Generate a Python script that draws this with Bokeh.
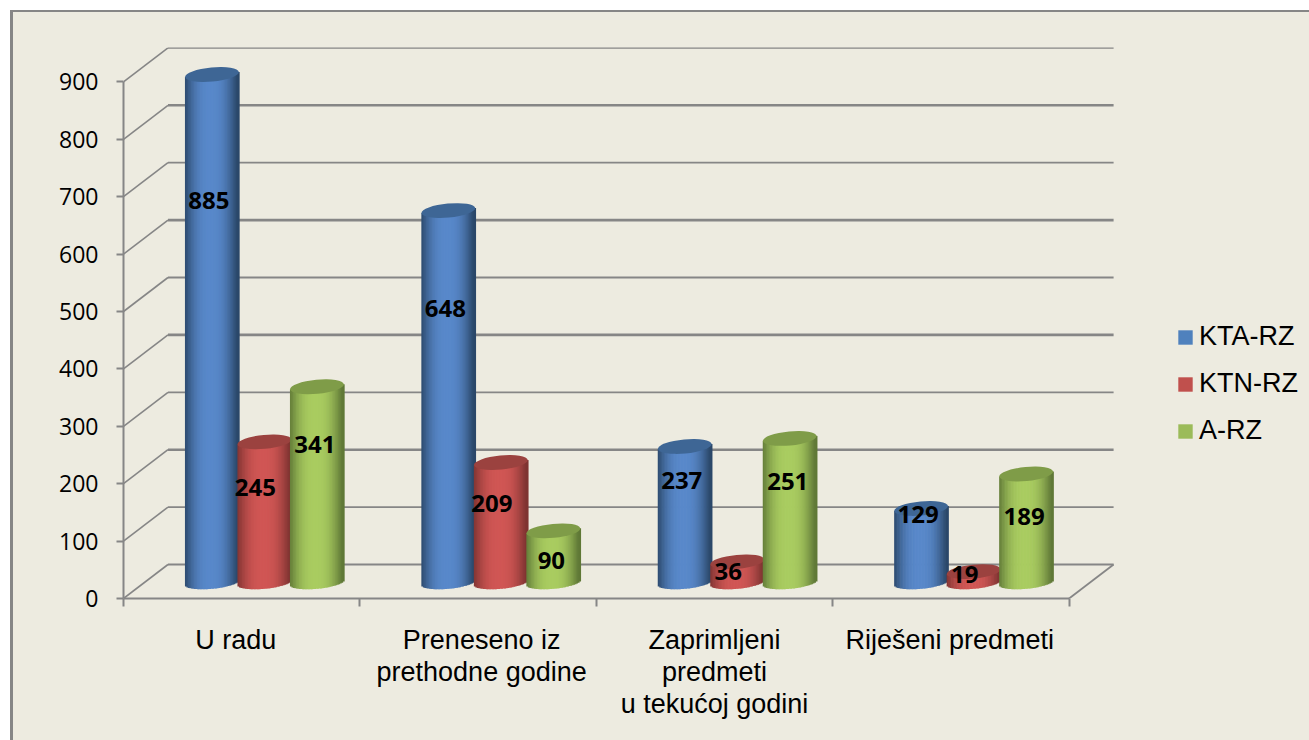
import math
from bokeh.embed import file_html
from bokeh.resources import INLINE
from bokeh.plotting import figure
from bokeh.core.properties import value
from bokeh.models import (FixedTicker, Legend, LegendItem, Range1d)

categories = ["U radu", "Preneseno iz\nprethodne godine", "Zaprimljeni\npredmeti\nu tekućoj godini", "Riješeni predmeti"]
series_names = ["KTA-RZ", "KTN-RZ", "A-RZ"]
kta_rz = [885, 648, 237, 129]
ktn_rz = [245, 209, 36, 19]
a_rz = [341, 90, 251, 189]
y_ticks = [0, 100, 200, 300, 400, 500, 600, 700, 800, 900]

# layout / style
W, H = 1296, 728
BG, GRID = "#edebe0", "#868686"
PX_X, PX_Y = 236.4, 0.574          # px per category, px per value
DX, DY = 44.5 / PX_X, 34 / PX_Y    # depth of the pseudo-3D floor
BASE_X, BASE_Y = DX / 2 + 0.5 / PX_X, 16 / PX_Y # cylinders stand mid-depth
STEP = 52.5 / PX_X
BAR_W = 54 / PX_X
CAP_H = 7.0 / PX_Y                 # semi-minor of the ellipses
TILT = 0.095
STRIPS = 36
LIGHT = ["#5888ca", "#d05654", "#a9cc60"]
DARK = ["#2a4769", "#7e3331", "#5f7836"]
CAP = ["#3e6695", "#9b423f", "#7f9c48"]
SWATCH = ["#4f81bd", "#c0504d", "#9bbb59"]
LABEL_FRAC = [[0.78, 0.775, 0.85, 1.11], [0.775, 0.775, 1.20, 2.0], [0.775, 0.70, 0.80, 0.735]]
LABEL_SHIFT = [-3 / PX_X, -9 / PX_X, -2 / PX_X]
CAT_LABEL_AT = [0.475, 1.515, 2.5, 3.495]

p = figure(width=W, height=H, output_backend="svg", toolbar_location=None,
           frame_width=991, frame_height=551,
           x_range=Range1d(0, 991 / PX_X), y_range=Range1d(0, 551 / PX_Y),
           min_border_left=110, min_border_right=195, min_border_top=35, min_border_bottom=142,
           background_fill_color=None, border_fill_color=None, outline_line_color=None)
p.styles = {"margin-left": "10px", "margin-top": "10px", "background-color": BG,
            "border-left": "3px solid #868686", "border-top": "2px solid #868686"}
p.grid.visible = False

# back wall and floor lines
for i, v in enumerate(y_ticks):
    w = 2.6 if i % 2 == 0 and i else 1.8
    p.line([0, DX], [v, v + DY], line_color=GRID, line_width=1.6)
    p.line([DX, 4 + DX], [v + DY, v + DY], line_color=GRID, line_width=w)
p.line([4, 4 + DX], [0, DY], line_color=GRID, line_width=1.8)

def mix(a, b, f):
    ca = [int(a[k:k + 2], 16) for k in (1, 3, 5)]
    cb = [int(b[k:k + 2], 16) for k in (1, 3, 5)]
    return "#%02x%02x%02x" % tuple(round(x + (y - x) * f) for x, y in zip(ca, cb))

legend_items = []
all_series = [kta_rz, ktn_rz, a_rz]
for s, vals in enumerate(all_series):
    for c, v in enumerate(vals):
        cx = c + 0.5 + BASE_X + (s - 1) * STEP
        left, right, bottom, top, col = [], [], [], [], []
        for k in range(STRIPS):
            t0 = -1 + 2 * k / STRIPS
            t1 = -1 + 2 * (k + 1) / STRIPS
            tm = (t0 + t1) / 2
            slope = math.tan(TILT) * (BAR_W / 2 * PX_X) / PX_Y * tm
            sag = CAP_H * 0.9 * math.sqrt(max(0, 1 - tm * tm))
            left.append(cx + t0 * BAR_W / 2)
            right.append(cx + t1 * BAR_W / 2 + 0.003)
            bottom.append(BASE_Y + slope - sag)
            top.append(BASE_Y + v + slope)
            shade = max(0.0, 1 - min(1.0, abs(tm + 0.05)) ** 2.6) ** 1.3
            col.append(mix(DARK[s], LIGHT[s], shade))
        p.quad(left=left, right=right, bottom=bottom, top=top, fill_color=col, line_color=None)
        p.ellipse(x=[cx], y=[BASE_Y + v], width=BAR_W, height=2 * CAP_H, angle=TILT,
                  fill_color=CAP[s], line_color=None)

for s, vals in enumerate(all_series):
    xs = [c + 0.5 + BASE_X + (s - 1) * STEP + LABEL_SHIFT[s] for c in range(4)]
    ys = [v * f for v, f in zip(vals, LABEL_FRAC[s])]
    p.text(xs, ys, text=[str(v) for v in vals], text_font=value("Open Sans"), text_font_style="bold",
           text_font_size="24px", text_color="black", text_align="center", text_baseline="middle",
           y_offset=-2)

# legend swatches
for s, name in enumerate(series_names):
    r = p.quad(left=[float("nan")], right=[float("nan")], bottom=[float("nan")], top=[float("nan")],
               fill_color=SWATCH[s], line_color=None)
    legend_items.append(LegendItem(label=name, renderers=[r]))
legend = Legend(items=legend_items, location=(62, 152), orientation="vertical",
                border_line_color=None, background_fill_alpha=0, padding=0, margin=0,
                glyph_width=18, glyph_height=18, label_standoff=5, spacing=16,
                label_text_font="Liberation Sans", label_text_font_size="27px", label_height=28,
                label_text_color="black")
p.add_layout(legend, "right")

# axes
ya = p.yaxis[0]
ya.ticker = FixedTicker(ticks=y_ticks)
ya.bounds = (0, 900)
ya.axis_line_color = GRID
ya.axis_line_width = 2
ya.major_tick_line_color = GRID
ya.major_tick_line_width = 2
ya.major_tick_in = 0
ya.major_tick_out = 7
ya.minor_tick_line_color = None
ya.major_label_standoff = 18
ya.major_label_text_font = "Open Sans"
ya.major_label_text_font_size = "23px"
ya.major_label_text_color = "black"

xa = p.xaxis[0]
xa.ticker = FixedTicker(ticks=CAT_LABEL_AT, minor_ticks=list(range(5)))
xa.major_label_overrides = dict(zip(CAT_LABEL_AT, categories))
xa.bounds = (0, 4)
xa.axis_line_color = GRID
xa.axis_line_width = 2
xa.major_tick_line_color = None
xa.major_tick_in = 0
xa.major_tick_out = 0
xa.minor_tick_line_color = GRID
xa.minor_tick_line_width = 2
xa.minor_tick_in = 0
xa.minor_tick_out = 8
xa.major_label_standoff = 18
xa.major_label_orientation = "horizontal"
xa.major_label_text_font = "Liberation Sans"
xa.major_label_text_font_size = "27px"
xa.major_label_text_color = "black"
xa.major_label_text_line_height = 1.07

open("out.html", "w").write(file_html(p, INLINE))
